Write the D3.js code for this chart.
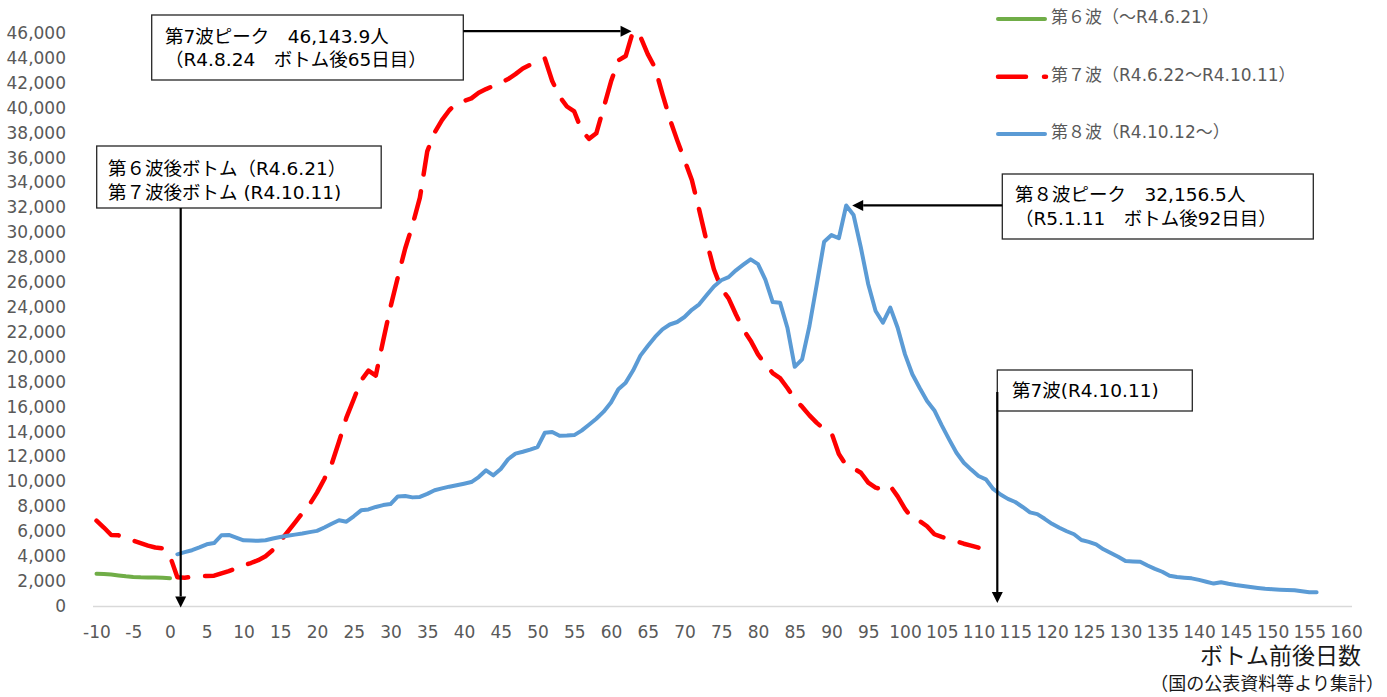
<!DOCTYPE html>
<html>
<head>
<meta charset="utf-8">
<script src="https://cdn.jsdelivr.net/npm/d3@7"></script>
<style>
  html, body { margin: 0; padding: 0; background: #ffffff; }
  svg { display: block; font-family: "DejaVu Sans", "Noto Sans CJK JP", sans-serif; }
</style>
</head>
<body>
<svg id="chart" width="1387" height="697"></svg>
<script>
// Days before/after the bottom of each wave
const xTickValues = [-10, -5, 0, 5, 10, 15, 20, 25, 30, 35, 40, 45, 50, 55, 60, 65, 70, 75, 80,
  85, 90, 95, 100, 105, 110, 115, 120, 125, 130, 135, 140, 145, 150, 155, 160];
const yTickValues = [0, 2000, 4000, 6000, 8000, 10000, 12000, 14000, 16000, 18000, 20000, 22000,
  24000, 26000, 28000, 30000, 32000, 34000, 36000, 38000, 40000, 42000, 44000, 46000];

// 6th wave (up to R4.6.21), daily values from day -10
const wave6StartDay = -10;
const wave6Values = [2590, 2560, 2520, 2450, 2380, 2330, 2300, 2290, 2280, 2260, 2230];

// 7th wave (R4.6.22 - R4.10.11), daily values from day -10
const wave7StartDay = -10;
const wave7Values = [
  6850, 6300, 5700, 5670, 5450, 5250, 5050, 4850, 4700, 4630,
  4000, 2300, 2270, 2350, 2420, 2410, 2430, 2620, 2800, 3020,
  3250, 3450, 3680, 4000, 4500, 5200, 5950, 6700, 7450, 8160,
  9100, 10200, 11400, 13200, 15120, 16600, 18100, 18900, 18500, 21300,
  24000, 26400, 28700, 30600, 32780, 36500, 38000, 39000, 39800, 40350,
  40550, 40750, 41200, 41500, 41750, 42000, 42300, 42700, 43150, 43450,
  43700, 43950, 42150, 40900, 40100, 39700, 38200, 37500, 37950, 40000,
  42100, 43800, 44150, 46143.9, 45700, 44300, 43200, 41100, 39100, 37400,
  35800, 34200, 31800, 29300, 27030, 25500, 24700, 23400, 22200, 21300,
  20200, 19400, 18700, 18300, 17500, 16600, 16000, 15300, 14700, 14200,
  13900, 12200, 11300, 11050, 10700, 9900, 9500, 9350, 9630, 8800,
  7800, 7000, 6820, 6400, 5760, 5550, 5380, 5200, 5000, 4850, 4680
];

// 8th wave (from R4.10.12), daily values from day 1
const wave8StartDay = 1;
const wave8Values = [
  4150, 4320, 4480, 4700, 4950, 5050, 5680, 5700, 5480, 5270,
  5250, 5240, 5280, 5420, 5540, 5640, 5730, 5820, 5930, 6030,
  6300, 6600, 6880, 6770, 7200, 7680, 7750, 7950, 8100, 8180,
  8800, 8830, 8720, 8760, 9000, 9290, 9440, 9580, 9700, 9820,
  9950, 10350, 10890, 10490, 11000, 11780, 12230, 12380, 12550, 12750,
  13910, 13970, 13660, 13680, 13720, 14080, 14550, 15030, 15600, 16330,
  17400, 17930, 18900, 20100, 20870, 21600, 22210, 22600, 22800, 23200,
  23780, 24220, 24950, 25650, 26150, 26400, 26950, 27400, 27830, 27450,
  26200, 24400, 24350, 22340, 19200, 19800, 22480, 25830, 29250, 29780,
  29520, 32156.5, 31390, 28760, 25830, 23680, 22740, 23950, 22340, 20200,
  18600, 17500, 16460, 15700, 14500, 13380, 12300, 11500, 10950, 10440,
  10170, 9400, 8950, 8600, 8350, 7950, 7520, 7380, 7000, 6600,
  6280, 6000, 5760, 5300, 5150, 4950, 4550, 4250, 3950, 3610,
  3580, 3560, 3250, 2980, 2750, 2430, 2330, 2270, 2220, 2100,
  1950, 1800, 1900, 1780, 1680, 1600, 1520, 1450, 1390, 1350,
  1310, 1280, 1260, 1180, 1100, 1100
];

const legendLabels = ["第６波（～R4.6.21）", "第７波（R4.6.22～R4.10.11）", "第８波（R4.10.12～）"];
const xAxisTitle = "ボトム前後日数";
const sourceNote = "（国の公表資料等より集計）";

const FONT = '"DejaVu Sans", "Noto Sans CJK JP", sans-serif';
const TICK_COLOR = "#595959";

const svg = d3.select("#chart");

const x = d3.scaleLinear().domain([-10, 160]).range([96.5, 1346]);
const y = d3.scaleLinear().domain([0, 46000]).range([606, 33]);

const toPoints = (start, values) => values.map((v, i) => ({ day: start + i, value: v }));
const line = d3.line().x(d => x(d.day)).y(d => y(d.value));

// Horizontal axis line
svg.append("line")
  .attr("x1", x(-10) - 3.5).attr("x2", x(160) + 6)
  .attr("y1", y(0) + 0.5).attr("y2", y(0) + 0.5)
  .attr("stroke", "#d9d9d9").attr("stroke-width", 1.5);

// X axis labels
const gx = svg.append("g")
  .attr("transform", `translate(0,${y(0)})`)
  .call(d3.axisBottom(x).tickValues(xTickValues).tickSize(0).tickFormat(d => String(d)));
gx.select(".domain").remove();
gx.attr("font-family", FONT).attr("font-size", 17);
gx.selectAll("text").attr("fill", TICK_COLOR).attr("y", 20).attr("dy", "0.71em");

// Y axis labels
const gy = svg.append("g")
  .attr("transform", "translate(70,0)")
  .call(d3.axisLeft(y).tickValues(yTickValues).tickSize(0).tickPadding(4).tickFormat(d3.format(",")));
gy.select(".domain").remove();
gy.attr("font-family", FONT).attr("font-size", 17);
gy.selectAll("text").attr("fill", TICK_COLOR);

// Wave lines
const series = [
  { points: toPoints(wave6StartDay, wave6Values), color: "#70AD47", width: 4, dash: null },
  { points: toPoints(wave7StartDay, wave7Values), color: "#FF0000", width: 4.5, dash: "28 17" },
  { points: toPoints(wave8StartDay, wave8Values), color: "#5B9BD5", width: 4, dash: null }
];

svg.append("g").selectAll("path")
  .data(series)
  .join("path")
  .attr("d", d => line(d.points))
  .attr("fill", "none")
  .attr("stroke", d => d.color)
  .attr("stroke-width", d => d.width)
  .attr("stroke-linejoin", "round")
  .attr("stroke-linecap", "round")
  .attr("stroke-dasharray", d => d.dash);

// Legend
const legendRows = [19, 76.7, 134];
const legend = svg.append("g");
series.forEach((s, i) => {
  const ly = legendRows[i];
  legend.append("line")
    .attr("x1", 998).attr("x2", s.dash ? 1046 : 1045)
    .attr("y1", ly).attr("y2", ly)
    .attr("stroke", s.color).attr("stroke-width", s.width)
    .attr("stroke-linecap", "round")
    .attr("stroke-dasharray", s.dash ? "28 18" : null);
  legend.append("text")
    .attr("x", 1051).attr("y", ly + 4)
    .attr("font-size", 17).attr("fill", TICK_COLOR)
    .text(legendLabels[i]);
});

// Callout boxes
function callout(bx, by, bw, bh, tx, lines, baselines) {
  svg.append("rect")
    .attr("x", bx).attr("y", by).attr("width", bw).attr("height", bh)
    .attr("fill", "#ffffff").attr("stroke", "#262626").attr("stroke-width", 1.3);
  lines.forEach((t, i) => {
    svg.append("text")
      .attr("x", tx).attr("y", baselines[i])
      .attr("font-size", 18.5).attr("fill", "#000000")
      .text(t);
  });
}

function arrow(x1, y1, x2, y2) {
  const ang = Math.atan2(y2 - y1, x2 - x1);
  const len = 11, half = 5.5;
  const bx = x2 - len * Math.cos(ang), by = y2 - len * Math.sin(ang);
  svg.append("line")
    .attr("x1", x1).attr("y1", y1).attr("x2", bx).attr("y2", by)
    .attr("stroke", "#000000").attr("stroke-width", 2.2);
  const p = [
    [x2, y2],
    [bx + half * Math.sin(ang), by - half * Math.cos(ang)],
    [bx - half * Math.sin(ang), by + half * Math.cos(ang)]
  ];
  svg.append("path").attr("d", "M" + p.join("L") + "Z").attr("fill", "#000000");
}

// 7th wave peak
const peak7 = { day: 63, value: 46143.9 };
callout(151.7, 15, 311.6, 65, 165, ["第7波ピーク　46,143.9人", "（R4.8.24　ボトム後65日目）"], [43, 65.5]);
arrow(463.3, y(peak7.value), x(peak7.day) - 1.5, y(peak7.value));

// Bottoms of 6th / 7th waves
callout(96.7, 146, 284.5, 62, 108, ["第６波後ボトム（R4.6.21）", "第７波後ボトム (R4.10.11)"], [174.5, 198.5]);
arrow(180.7, 208, 180.7, y(0) + 1.5);

// 8th wave peak
const peak8 = { day: 92, value: 32156.5 };
callout(1002.3, 174, 311, 65, 1015, ["第８波ピーク　32,156.5人", "（R5.1.11　ボトム後92日目）"], [201, 224.5]);
arrow(1002.3, y(peak8.value), x(peak8.day) + 6, y(peak8.value));

// End of 7th wave
callout(997.3, 370, 195, 41, 1012, ["第7波(R4.10.11)"], [397]);
arrow(997.3, 392, 997.3, y(0) - 3);

// Axis title and source note
svg.append("text")
  .attr("x", 1361).attr("y", 664)
  .attr("text-anchor", "end")
  .attr("font-size", 23).attr("fill", "#1a1a1a")
  .text(xAxisTitle);
svg.append("text")
  .attr("x", 1384).attr("y", 690)
  .attr("text-anchor", "end")
  .attr("font-size", 18).attr("fill", "#1a1a1a")
  .text(sourceNote);
</script>
</body>
</html>
